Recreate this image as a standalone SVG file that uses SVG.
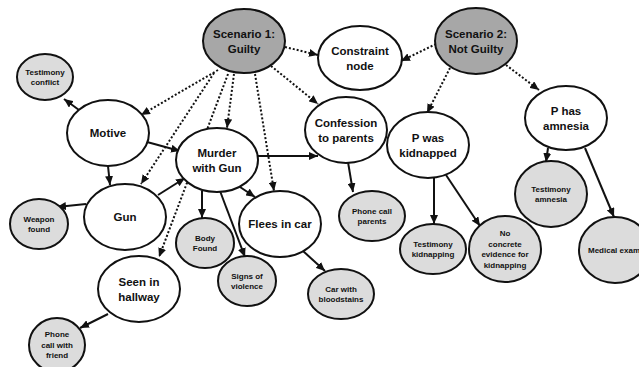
<svg xmlns="http://www.w3.org/2000/svg" width="639" height="367" viewBox="0 0 639 367">
<style>
.e{stroke:#111;stroke-width:2}
.main{fill:#fff}
.scen{fill:#a7a7a7}
.ev{fill:#dcdcdc}
.t{font-family:"Liberation Sans",Arial,sans-serif;font-weight:bold;fill:#111;text-anchor:middle}
.m{font-size:11.5px}
.s{font-size:8px}
.c line{stroke:#111;stroke-width:2;marker-end:url(#ah)}
.c .d{stroke-dasharray:2 2}
</style>
<defs>
<marker id="ah" markerUnits="userSpaceOnUse" markerWidth="10" markerHeight="8" refX="9" refY="4" orient="auto">
<path d="M0,0 L9,4 L0,8 z" fill="#111"/>
</marker>
</defs>
<rect width="639" height="367" fill="#fff"/>
<g id="connectors" class="c">
<line class="d" x1="285" y1="47" x2="318" y2="55"/>
<line class="d" x1="218" y1="70" x2="141" y2="115"/>
<line class="d" x1="214" y1="73" x2="141" y2="184"/>
<line class="d" x1="228" y1="74" x2="159" y2="257"/>
<line class="d" x1="234" y1="74" x2="227" y2="128"/>
<line class="d" x1="255" y1="74" x2="274" y2="191"/>
<line class="d" x1="271" y1="66" x2="318" y2="104"/>
<line class="d" x1="436" y1="44" x2="401" y2="61"/>
<line class="d" x1="450" y1="68" x2="427" y2="113"/>
<line class="d" x1="506" y1="65" x2="539" y2="90"/>
<line x1="79" y1="110" x2="64" y2="99"/>
<line x1="147" y1="142" x2="180" y2="151"/>
<line x1="108" y1="166" x2="110" y2="185"/>
<line x1="158" y1="195" x2="185" y2="178"/>
<line x1="86" y1="204" x2="57" y2="207"/>
<line x1="258" y1="156" x2="318" y2="156"/>
<line x1="202" y1="191" x2="202" y2="218"/>
<line x1="220" y1="191" x2="245" y2="257"/>
<line x1="240" y1="187" x2="255" y2="197"/>
<line x1="303" y1="251" x2="325" y2="271"/>
<line x1="348" y1="162" x2="353" y2="192"/>
<line x1="434" y1="177" x2="434" y2="224"/>
<line x1="446" y1="175" x2="480" y2="226"/>
<line x1="548" y1="148" x2="546" y2="162"/>
<line x1="585" y1="148" x2="614" y2="217"/>
<line x1="108" y1="314" x2="80" y2="328"/>
</g>
<g id="scenario1"><ellipse class="e scen" cx="244" cy="41" rx="41" ry="32"/><text class="t m" x="244" y="38">Scenario 1:</text><text class="t m" x="244" y="53">Guilty</text></g>
<g id="scenario2"><ellipse class="e scen" cx="476" cy="41" rx="41" ry="33"/><text class="t m" x="476" y="38">Scenario 2:</text><text class="t m" x="476" y="53">Not Guilty</text></g>
<g id="constraint"><ellipse class="e main" cx="360" cy="58" rx="42" ry="32"/><text class="t m" x="360" y="55">Constraint</text><text class="t m" x="360" y="70">node</text></g>
<g id="motive"><ellipse class="e main" cx="108" cy="133" rx="41" ry="33"/><text class="t m" x="108" y="137">Motive</text></g>
<g id="murder"><ellipse class="e main" cx="217" cy="160" rx="41" ry="32"/><text class="t m" x="217" y="157">Murder</text><text class="t m" x="217" y="172">with Gun</text></g>
<g id="confession"><ellipse class="e main" cx="346" cy="130" rx="41" ry="33"/><text class="t m" x="346" y="127">Confession</text><text class="t m" x="346" y="142">to parents</text></g>
<g id="kidnapped"><ellipse class="e main" cx="428" cy="145" rx="41" ry="33"/><text class="t m" x="428" y="142">P was</text><text class="t m" x="428" y="157">kidnapped</text></g>
<g id="amnesia"><ellipse class="e main" cx="566" cy="118" rx="41" ry="32"/><text class="t m" x="566" y="115">P has</text><text class="t m" x="566" y="130">amnesia</text></g>
<g id="gun"><ellipse class="e main" cx="125" cy="217" rx="41" ry="33"/><text class="t m" x="125" y="221">Gun</text></g>
<g id="flees"><ellipse class="e main" cx="280" cy="224" rx="41" ry="33"/><text class="t m" x="280" y="228">Flees in car</text></g>
<g id="hallway"><ellipse class="e main" cx="139" cy="289" rx="41" ry="33"/><text class="t m" x="139" y="286">Seen in</text><text class="t m" x="139" y="301">hallway</text></g>
<g id="testimony-conflict"><ellipse class="e ev" cx="45" cy="77" rx="28" ry="23"/><text class="t s" x="45" y="75">Testimony</text><text class="t s" x="45" y="85">conflict</text></g>
<g id="weapon-found"><ellipse class="e ev" cx="39" cy="224" rx="29" ry="25"/><text class="t s" x="39" y="222">Weapon</text><text class="t s" x="39" y="232">found</text></g>
<g id="body-found"><ellipse class="e ev" cx="205" cy="243" rx="29" ry="25"/><text class="t s" x="205" y="241">Body</text><text class="t s" x="205" y="251">Found</text></g>
<g id="signs-violence"><ellipse class="e ev" cx="247" cy="281" rx="29" ry="25"/><text class="t s" x="247" y="279">Signs of</text><text class="t s" x="247" y="289">violence</text></g>
<g id="phone-friend"><ellipse class="e ev" cx="57" cy="345" rx="28" ry="27"/><text class="t s" x="57" y="337">Phone</text><text class="t s" x="57" y="348">call with</text><text class="t s" x="57" y="358">friend</text></g>
<g id="phone-parents"><ellipse class="e ev" cx="372" cy="216" rx="33" ry="25"/><text class="t s" x="372" y="214">Phone call</text><text class="t s" x="372" y="224">parents</text></g>
<g id="car-bloodstains"><ellipse class="e ev" cx="341" cy="294" rx="33" ry="25"/><text class="t s" x="341" y="292">Car with</text><text class="t s" x="341" y="302">bloodstains</text></g>
<g id="testimony-kidnapping"><ellipse class="e ev" cx="433" cy="249" rx="33" ry="25"/><text class="t s" x="433" y="247">Testimony</text><text class="t s" x="433" y="257">kidnapping</text></g>
<g id="no-concrete"><ellipse class="e ev" cx="505" cy="249" rx="36" ry="33"/><text class="t s" x="505" y="236">No</text><text class="t s" x="505" y="247">concrete</text><text class="t s" x="505" y="257">evidence for</text><text class="t s" x="505" y="268">kidnapping</text></g>
<g id="testimony-amnesia"><ellipse class="e ev" cx="551" cy="194" rx="36" ry="33"/><text class="t s" x="551" y="192">Testimony</text><text class="t s" x="551" y="202">amnesia</text></g>
<g id="medical-exam"><ellipse class="e ev" cx="615" cy="250" rx="36" ry="33"/><text class="t s" x="614" y="253">Medical exam</text></g>
</svg>
